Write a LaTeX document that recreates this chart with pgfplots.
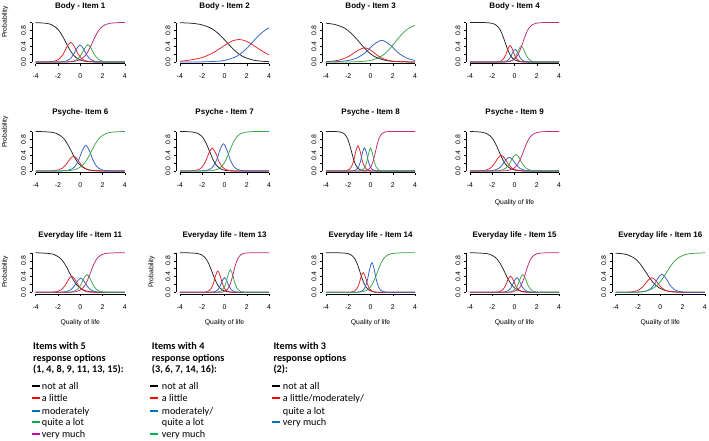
\documentclass[border=0pt]{standalone}
\usepackage{pgfplots}
\pgfplotsset{compat=1.18}
\usepackage{fontspec}
\setmainfont{Liberation Sans}
\newfontfamily\calibri{Carlito}
\definecolor{cblk}{RGB}{35,35,35}
\definecolor{cred}{RGB}{228,32,38}
\definecolor{cblu}{RGB}{45,95,200}
\definecolor{cgrn}{RGB}{60,165,70}
\definecolor{cmag}{RGB}{190,40,120}
\definecolor{lred}{RGB}{255,0,0}
\definecolor{lblu}{RGB}{0,112,192}
\definecolor{lgrn}{RGB}{0,176,80}
\definecolor{lmag}{RGB}{215,0,170}
\pgfplotsset{
 icc/.style={
  scale only axis, width=96.3pt, height=42.66pt, anchor=south west,
  xmin=-4.32, xmax=4.32, ymin=-0.04, ymax=1.04, clip=false,
  axis x line*=bottom, axis y line*=left, axis line style={draw=none},
  xtick={-4,-2,0,2,4}, xticklabels={-4,-2,0,2,4},
  ytick={0,0.2,0.4,0.6,0.8,1}, yticklabels={0.0,,0.4,,0.8,},
  tick align=outside, major tick length=2.5pt, tick style={black,line width=0.4pt},
  ticklabel style={font=\fontsize{6.9}{8}\selectfont},
  xticklabel style={yshift=-4.5pt},
  yticklabel style={rotate=90, anchor=south, xshift=0pt},
  no markers,
  every axis plot/.append style={smooth, line width=0.75pt},
 }
}
\newcommand\axlines{\draw[line width=0.4pt] (axis cs:-4,-0.04) -- (axis cs:4,-0.04); \draw[line width=0.4pt] (axis cs:-4.32,0) -- (axis cs:-4.32,1);}
\begin{document}
\begin{tikzpicture}[x=1pt,y=1pt]
\path[use as bounding box] (0,0) rectangle (709,440);
% ---------- Item 1
\begin{axis}[icc, at={(32.1pt,376.4pt)}]
\axlines
\addplot[cblk] coordinates {(-4,0.998) (-3.1,0.982) (-2.65,0.953) (-2.2,0.881) (-1.975,0.818) (-1.75,0.731) (-1.525,0.622) (-1.3,0.5) (-1.075,0.378) (-0.85,0.269) (-0.625,0.182) (-0.4,0.119) (0.05,0.047) (0.5,0.018) (1.4,0.002) (4,0)};
\addplot[cred] coordinates {(-4,0) (-3.46,0.001) (-2.81,0.005) (-2.485,0.013) (-2.16,0.035) (-1.835,0.09) (-1.51,0.21) (-1.185,0.393) (-0.86,0.5) (-0.535,0.393) (-0.21,0.21) (0.115,0.09) (0.44,0.035) (0.765,0.013) (1.09,0.005) (1.74,0.001) (4,0)};
\addplot[cblu] coordinates {(-4,0) (-2.42,0.001) (-1.82,0.004) (-1.52,0.011) (-1.22,0.03) (-0.92,0.078) (-0.62,0.181) (-0.32,0.338) (-0.02,0.43) (0.28,0.338) (0.58,0.181) (0.88,0.078) (1.18,0.03) (1.48,0.011) (1.78,0.004) (2.38,0.001) (4,0)};
\addplot[cgrn] coordinates {(-4,0) (-1.72,0.001) (-1.12,0.004) (-0.82,0.012) (-0.52,0.031) (-0.22,0.08) (0.08,0.185) (0.38,0.346) (0.68,0.44) (0.98,0.346) (1.28,0.185) (1.58,0.08) (1.88,0.031) (2.18,0.012) (2.48,0.004) (3.08,0.001) (4,0)};
\addplot[cmag] coordinates {(-4,0) (-1.3,0.002) (-0.5,0.018) (-0.1,0.047) (0.3,0.119) (0.5,0.182) (0.7,0.269) (0.9,0.378) (1.1,0.5) (1.3,0.622) (1.5,0.731) (1.7,0.818) (1.9,0.881) (2.3,0.953) (2.7,0.982) (3.5,0.998) (4,1)};
\end{axis}
% ---------- Item 2
\begin{axis}[icc, at={(176.4pt,376.4pt)}]
\axlines
\addplot[cblk] coordinates {(-4,0.995) (-3.0,0.982) (-2.2,0.953) (-1.4,0.881) (-1.0,0.818) (-0.6,0.731) (-0.2,0.622) (0.2,0.5) (0.6,0.378) (1.0,0.269) (1.4,0.182) (1.8,0.119) (2.6,0.047) (3.4,0.018) (4,0.009)};
\addplot[cred] coordinates {(-4,0.022) (-3.3,0.040) (-2.15,0.103) (-1.575,0.160) (-1.0,0.239) (-0.425,0.340) (0.15,0.448) (0.725,0.536) (1.3,0.57) (1.875,0.536) (2.45,0.448) (3.025,0.340) (3.6,0.239) (4,0.181)};
\addplot[cblu] coordinates {(-4,0) (-2.3,0.002) (-0.7,0.018) (0.1,0.047) (0.9,0.119) (1.3,0.182) (1.7,0.269) (2.1,0.378) (2.5,0.5) (2.9,0.622) (3.3,0.731) (3.7,0.818) (4,0.867)};
\end{axis}
% ---------- Item 3
\begin{axis}[icc, at={(322.4pt,376.4pt)}]
\axlines
\addplot[cblk] coordinates {(-4,0.982) (-3.25,0.953) (-2.5,0.881) (-2.125,0.818) (-1.75,0.731) (-1.375,0.622) (-1.0,0.5) (-0.625,0.378) (-0.25,0.269) (0.125,0.182) (0.5,0.119) (1.25,0.047) (2.0,0.018) (3.5,0.002) (4,0.001)};
\addplot[cred] coordinates {(-4,0.010) (-3.3,0.025) (-2.6,0.065) (-1.9,0.151) (-1.2,0.283) (-0.5,0.36) (0.1,0.283) (0.7,0.151) (1.3,0.065) (1.9,0.025) (2.5,0.010) (3.1,0.004) (4,0.001)};
\addplot[cblu] coordinates {(-4,0.003) (-3.5,0.005) (-2.75,0.015) (-2.0,0.039) (-1.25,0.099) (-0.5,0.231) (0.25,0.433) (1.0,0.55) (1.75,0.433) (2.5,0.231) (3.25,0.099) (4,0.039)};
\addplot[cgrn] coordinates {(-4,0) (-2.0,0.002) (-0.6,0.018) (0.1,0.047) (0.8,0.119) (1.15,0.182) (1.5,0.269) (1.85,0.378) (2.2,0.5) (2.55,0.622) (2.9,0.731) (3.25,0.818) (3.6,0.881) (4,0.929)};
\end{axis}
% ---------- Item 4
\begin{axis}[icc, at={(466.4pt,376.4pt)}]
\axlines
\addplot[cblk] coordinates {(-4,1) (-2.65,0.998) (-2.05,0.982) (-1.75,0.953) (-1.45,0.881) (-1.3,0.818) (-1.15,0.731) (-1.0,0.622) (-0.85,0.5) (-0.7,0.378) (-0.55,0.269) (-0.4,0.182) (-0.25,0.119) (0.05,0.047) (0.35,0.018) (0.95,0.002) (4,0)};
\addplot[cred] coordinates {(-4,0) (-2.0,0.001) (-1.6,0.004) (-1.4,0.011) (-1.2,0.03) (-1.0,0.076) (-0.8,0.176) (-0.6,0.33) (-0.4,0.42) (-0.2,0.33) (0.0,0.176) (0.2,0.076) (0.4,0.03) (0.6,0.011) (0.8,0.004) (1.2,0.001) (4,0)};
\addplot[cblu] coordinates {(-4,0) (-1.55,0.0004) (-1.15,0.003) (-0.95,0.009) (-0.75,0.023) (-0.55,0.058) (-0.35,0.134) (-0.15,0.252) (0.05,0.32) (0.25,0.252) (0.45,0.134) (0.65,0.058) (0.85,0.023) (1.05,0.009) (1.25,0.003) (1.65,0.0004) (4,0)};
\addplot[cgrn] coordinates {(-4,0) (-1.2,0.0005) (-0.75,0.004) (-0.525,0.011) (-0.3,0.028) (-0.075,0.072) (0.15,0.168) (0.375,0.315) (0.6,0.4) (0.825,0.315) (1.05,0.168) (1.275,0.072) (1.5,0.028) (1.725,0.011) (1.95,0.004) (2.4,0.0005) (4,0)};
\addplot[cmag] coordinates {(-4,0) (-1.05,0.002) (-0.45,0.018) (-0.15,0.047) (0.15,0.119) (0.3,0.182) (0.45,0.269) (0.6,0.378) (0.75,0.5) (0.9,0.622) (1.05,0.731) (1.2,0.818) (1.35,0.881) (1.65,0.953) (1.95,0.982) (2.55,0.998) (4,1)};
\end{axis}
% ---------- Item 6
\begin{axis}[icc, at={(32.1pt,267.4pt)}]
\axlines
\addplot[cblk] coordinates {(-4,1) (-3.5,0.998) (-2.6,0.982) (-2.15,0.953) (-1.7,0.881) (-1.475,0.818) (-1.25,0.731) (-1.025,0.622) (-0.8,0.5) (-0.575,0.378) (-0.35,0.269) (-0.125,0.182) (0.1,0.119) (0.55,0.047) (1.0,0.018) (1.9,0.002) (4,0)};
\addplot[cred] coordinates {(-4,0) (-3.32,0.0005) (-2.64,0.004) (-2.3,0.01) (-1.96,0.027) (-1.62,0.069) (-1.28,0.16) (-0.94,0.299) (-0.6,0.38) (-0.26,0.299) (0.08,0.16) (0.42,0.069) (0.76,0.027) (1.1,0.01) (1.44,0.004) (2.12,0.0005) (4,0)};
\addplot[cblu] coordinates {(-4,0) (-2.1,0.001) (-1.45,0.006) (-1.125,0.017) (-0.8,0.046) (-0.475,0.117) (-0.15,0.273) (0.175,0.511) (0.5,0.65) (0.825,0.511) (1.15,0.273) (1.475,0.117) (1.8,0.046) (2.125,0.017) (2.45,0.006) (3.1,0.001) (4,0)};
\addplot[cgrn] coordinates {(-4,0) (-1.7,0.002) (-0.8,0.018) (-0.35,0.047) (0.1,0.119) (0.325,0.182) (0.55,0.269) (0.775,0.378) (1.0,0.5) (1.225,0.622) (1.45,0.731) (1.675,0.818) (1.9,0.881) (2.35,0.953) (2.8,0.982) (3.7,0.998) (4,1)};
\end{axis}
% ---------- Item 7
\begin{axis}[icc, at={(176.4pt,267.4pt)}]
\axlines
\addplot[cblk] coordinates {(-4,1) (-3.45,0.998) (-2.75,0.982) (-2.4,0.953) (-2.05,0.881) (-1.875,0.818) (-1.7,0.731) (-1.525,0.622) (-1.35,0.5) (-1.175,0.378) (-1.0,0.269) (-0.825,0.182) (-0.65,0.119) (-0.3,0.047) (0.05,0.018) (0.75,0.002) (4,0)};
\addplot[cred] coordinates {(-4,0) (-3.5,0.001) (-2.9,0.006) (-2.6,0.015) (-2.3,0.041) (-2.0,0.105) (-1.7,0.244) (-1.4,0.456) (-1.1,0.58) (-0.8,0.456) (-0.5,0.244) (-0.2,0.105) (0.1,0.041) (0.4,0.015) (0.7,0.006) (1.3,0.001) (4,0)};
\addplot[cblu] coordinates {(-4,0) (-2.5,0.001) (-1.9,0.007) (-1.6,0.018) (-1.3,0.049) (-1.0,0.125) (-0.7,0.29) (-0.4,0.543) (-0.1,0.69) (0.2,0.543) (0.5,0.29) (0.8,0.125) (1.1,0.049) (1.4,0.018) (1.7,0.007) (2.3,0.001) (4,0)};
\addplot[cgrn] coordinates {(-4,0) (-1.65,0.002) (-0.95,0.018) (-0.6,0.047) (-0.25,0.119) (-0.075,0.182) (0.1,0.269) (0.275,0.378) (0.45,0.5) (0.625,0.622) (0.8,0.731) (0.975,0.818) (1.15,0.881) (1.5,0.953) (1.85,0.982) (2.55,0.998) (4,1)};
\end{axis}
% ---------- Item 8
\begin{axis}[icc, at={(322.4pt,267.4pt)}]
\axlines
\addplot[cblk] coordinates {(-4,1) (-3.1,0.998) (-2.64,0.982) (-2.41,0.953) (-2.18,0.881) (-2.065,0.818) (-1.95,0.731) (-1.835,0.622) (-1.72,0.5) (-1.605,0.378) (-1.49,0.269) (-1.375,0.182) (-1.26,0.119) (-1.03,0.047) (-0.8,0.018) (-0.34,0.002) (4,0)};
\addplot[cred] coordinates {(-4,0) (-2.65,0.001) (-2.27,0.006) (-2.08,0.017) (-1.89,0.045) (-1.7,0.116) (-1.51,0.269) (-1.32,0.503) (-1.13,0.64) (-0.94,0.503) (-0.75,0.269) (-0.56,0.116) (-0.37,0.045) (-0.18,0.017) (0.01,0.006) (0.39,0.001) (4,0)};
\addplot[cblu] coordinates {(-4,0) (-1.95,0.001) (-1.6,0.006) (-1.425,0.016) (-1.25,0.042) (-1.075,0.107) (-0.9,0.248) (-0.725,0.464) (-0.55,0.59) (-0.375,0.464) (-0.2,0.248) (-0.025,0.107) (0.15,0.042) (0.325,0.016) (0.5,0.006) (0.85,0.001) (4,0)};
\addplot[cgrn] coordinates {(-4,0) (-1.32,0.001) (-0.99,0.006) (-0.825,0.015) (-0.66,0.041) (-0.495,0.105) (-0.33,0.244) (-0.165,0.456) (0,0.58) (0.165,0.456) (0.33,0.244) (0.495,0.105) (0.66,0.041) (0.825,0.015) (0.99,0.006) (1.32,0.001) (4,0)};
\addplot[cmag] coordinates {(-4,0) (-0.75,0.002) (-0.35,0.018) (-0.15,0.047) (0.05,0.119) (0.15,0.182) (0.25,0.269) (0.35,0.378) (0.45,0.5) (0.55,0.622) (0.65,0.731) (0.75,0.818) (0.85,0.881) (1.05,0.953) (1.25,0.982) (1.65,0.998) (4,1)};
\end{axis}
% ---------- Item 9
\begin{axis}[icc, at={(466.4pt,267.4pt)}]
\axlines
\addplot[cblk] coordinates {(-4,1) (-3.68,0.998) (-2.92,0.982) (-2.54,0.953) (-2.16,0.881) (-1.97,0.818) (-1.78,0.731) (-1.59,0.622) (-1.4,0.5) (-1.21,0.378) (-1.02,0.269) (-0.83,0.182) (-0.64,0.119) (-0.26,0.047) (0.12,0.018) (0.88,0.002) (4,0)};
\addplot[cred] coordinates {(-4,0) (-3.8,0.0005) (-3.15,0.004) (-2.825,0.011) (-2.5,0.028) (-2.175,0.072) (-1.85,0.168) (-1.525,0.315) (-1.2,0.4) (-0.875,0.315) (-0.55,0.168) (-0.225,0.072) (0.1,0.028) (0.425,0.011) (0.75,0.004) (1.4,0.0005) (4,0)};
\addplot[cblu] coordinates {(-4,0) (-3.07,0.0005) (-2.42,0.003) (-2.095,0.009) (-1.77,0.025) (-1.445,0.063) (-1.12,0.147) (-0.795,0.275) (-0.47,0.35) (-0.145,0.275) (0.18,0.147) (0.505,0.063) (0.83,0.025) (1.155,0.009) (1.48,0.003) (2.13,0.0005) (4,0)};
\addplot[cgrn] coordinates {(-4,0) (-2.28,0.001) (-1.68,0.004) (-1.38,0.011) (-1.08,0.03) (-0.78,0.076) (-0.48,0.176) (-0.18,0.33) (0.12,0.42) (0.42,0.33) (0.72,0.176) (1.02,0.076) (1.32,0.03) (1.62,0.011) (1.92,0.004) (2.52,0.001) (4,0)};
\addplot[cmag] coordinates {(-4,0) (-1.18,0.002) (-0.52,0.018) (-0.19,0.047) (0.14,0.119) (0.305,0.182) (0.47,0.269) (0.635,0.378) (0.8,0.5) (0.965,0.622) (1.13,0.731) (1.295,0.818) (1.46,0.881) (1.79,0.953) (2.12,0.982) (2.78,0.998) (4,1)};
\end{axis}
% ---------- Item 11
\begin{axis}[icc, at={(32.1pt,146.1pt)}]
\axlines
\addplot[cblk] coordinates {(-4,1) (-3.67,0.998) (-2.77,0.982) (-2.32,0.953) (-1.87,0.881) (-1.645,0.818) (-1.42,0.731) (-1.195,0.622) (-0.97,0.5) (-0.745,0.378) (-0.52,0.269) (-0.295,0.182) (-0.07,0.119) (0.38,0.047) (0.83,0.018) (1.73,0.002) (4,0)};
\addplot[cred] coordinates {(-4,0) (-3.16,0.0005) (-2.56,0.004) (-2.26,0.011) (-1.96,0.029) (-1.66,0.074) (-1.36,0.172) (-1.06,0.322) (-0.76,0.41) (-0.46,0.322) (-0.16,0.172) (0.14,0.074) (0.44,0.029) (0.74,0.011) (1.04,0.004) (1.64,0.0005) (4,0)};
\addplot[cblu] coordinates {(-4,0) (-2.36,0.0005) (-1.76,0.004) (-1.46,0.01) (-1.16,0.025) (-0.86,0.065) (-0.56,0.151) (-0.26,0.283) (0.04,0.36) (0.34,0.283) (0.64,0.151) (0.94,0.065) (1.24,0.025) (1.54,0.01) (1.84,0.004) (2.44,0.0005) (4,0)};
\addplot[cgrn] coordinates {(-4,0) (-1.6,0.001) (-1.05,0.004) (-0.775,0.012) (-0.5,0.032) (-0.225,0.081) (0.05,0.189) (0.325,0.354) (0.6,0.45) (0.875,0.354) (1.15,0.189) (1.425,0.081) (1.7,0.032) (1.975,0.012) (2.25,0.004) (2.8,0.001) (4,0)};
\addplot[cmag] coordinates {(-4,0) (-1.06,0.002) (-0.4,0.018) (-0.07,0.047) (0.26,0.119) (0.425,0.182) (0.59,0.269) (0.755,0.378) (0.92,0.5) (1.085,0.622) (1.25,0.731) (1.415,0.818) (1.58,0.881) (1.91,0.953) (2.24,0.982) (2.9,0.998) (4,1)};
\end{axis}
% ---------- Item 13
\begin{axis}[icc, at={(176.4pt,146.1pt)}]
\axlines
\addplot[cblk] coordinates {(-4,1) (-3.08,0.998) (-2.42,0.982) (-2.09,0.953) (-1.76,0.881) (-1.595,0.818) (-1.43,0.731) (-1.265,0.622) (-1.1,0.5) (-0.935,0.378) (-0.77,0.269) (-0.605,0.182) (-0.44,0.119) (-0.11,0.047) (0.22,0.018) (0.88,0.002) (4,0)};
\addplot[cred] coordinates {(-4,0) (-2.2,0.001) (-1.8,0.005) (-1.6,0.014) (-1.4,0.038) (-1.2,0.098) (-1.0,0.227) (-0.8,0.425) (-0.6,0.54) (-0.4,0.425) (-0.2,0.227) (0.0,0.098) (0.2,0.038) (0.4,0.014) (0.6,0.005) (1.0,0.001) (4,0)};
\addplot[cblu] coordinates {(-4,0) (-1.6,0.0005) (-1.2,0.004) (-1.0,0.01) (-0.8,0.026) (-0.6,0.067) (-0.4,0.155) (-0.2,0.291) (0,0.37) (0.2,0.291) (0.4,0.155) (0.6,0.067) (0.8,0.026) (1.0,0.01) (1.2,0.004) (1.6,0.0005) (4,0)};
\addplot[cgrn] coordinates {(-4,0) (-1.08,0.001) (-0.68,0.006) (-0.48,0.015) (-0.28,0.04) (-0.08,0.103) (0.12,0.239) (0.32,0.448) (0.52,0.57) (0.72,0.448) (0.92,0.239) (1.12,0.103) (1.32,0.04) (1.52,0.015) (1.72,0.006) (2.12,0.001) (4,0)};
\addplot[cmag] coordinates {(-4,0) (-0.52,0.002) (-0.08,0.018) (0.14,0.047) (0.36,0.119) (0.47,0.182) (0.58,0.269) (0.69,0.378) (0.8,0.5) (0.91,0.622) (1.02,0.731) (1.13,0.818) (1.24,0.881) (1.46,0.953) (1.68,0.982) (2.12,0.998) (4,1)};
\end{axis}
% ---------- Item 14
\begin{axis}[icc, at={(322.4pt,146.1pt)}]
\axlines
\addplot[cblk] coordinates {(-4,1) (-2.61,0.998) (-2.05,0.982) (-1.77,0.953) (-1.49,0.881) (-1.35,0.818) (-1.21,0.731) (-1.07,0.622) (-0.93,0.5) (-0.79,0.378) (-0.65,0.269) (-0.51,0.182) (-0.37,0.119) (-0.09,0.047) (0.19,0.018) (0.75,0.002) (4,0)};
\addplot[cred] coordinates {(-4,0) (-2.18,0.001) (-1.8,0.005) (-1.61,0.013) (-1.42,0.035) (-1.23,0.09) (-1.04,0.21) (-0.85,0.393) (-0.66,0.5) (-0.47,0.393) (-0.28,0.21) (-0.09,0.09) (0.1,0.035) (0.29,0.013) (0.48,0.005) (0.86,0.001) (4,0)};
\addplot[cblu] coordinates {(-4,0) (-1.48,0.001) (-1.08,0.007) (-0.88,0.02) (-0.68,0.053) (-0.48,0.136) (-0.28,0.315) (-0.08,0.59) (0.12,0.75) (0.32,0.59) (0.52,0.315) (0.72,0.136) (0.92,0.053) (1.12,0.02) (1.32,0.007) (1.72,0.001) (4,0)};
\addplot[cgrn] coordinates {(-4,0) (-1.38,0.002) (-0.72,0.018) (-0.39,0.047) (-0.06,0.119) (0.105,0.182) (0.27,0.269) (0.435,0.378) (0.6,0.5) (0.765,0.622) (0.93,0.731) (1.095,0.818) (1.26,0.881) (1.59,0.953) (1.92,0.982) (2.58,0.998) (4,1)};
\end{axis}
% ---------- Item 15
\begin{axis}[icc, at={(466.4pt,146.1pt)}]
\axlines
\addplot[cblk] coordinates {(-4,1) (-3.39,0.998) (-2.55,0.982) (-2.13,0.953) (-1.71,0.881) (-1.5,0.818) (-1.29,0.731) (-1.08,0.622) (-0.87,0.5) (-0.66,0.378) (-0.45,0.269) (-0.24,0.182) (-0.03,0.119) (0.39,0.047) (0.81,0.018) (1.65,0.002) (4,0)};
\addplot[cred] coordinates {(-4,0) (-2.16,0.0005) (-1.71,0.004) (-1.485,0.011) (-1.26,0.029) (-1.035,0.074) (-0.81,0.172) (-0.585,0.322) (-0.36,0.41) (-0.135,0.322) (0.09,0.172) (0.315,0.074) (0.54,0.029) (0.765,0.011) (0.99,0.004) (1.44,0.0005) (4,0)};
\addplot[cblu] coordinates {(-4,0) (-1.59,0.0005) (-1.14,0.004) (-0.915,0.01) (-0.69,0.026) (-0.465,0.067) (-0.24,0.155) (-0.015,0.291) (0.21,0.37) (0.435,0.291) (0.66,0.155) (0.885,0.067) (1.11,0.026) (1.335,0.01) (1.56,0.004) (2.01,0.0005) (4,0)};
\addplot[cgrn] coordinates {(-4,0) (-1.06,0.001) (-0.61,0.004) (-0.385,0.012) (-0.16,0.032) (0.065,0.081) (0.29,0.189) (0.515,0.354) (0.74,0.45) (0.965,0.354) (1.19,0.189) (1.415,0.081) (1.64,0.032) (1.865,0.012) (2.09,0.004) (2.54,0.001) (4,0)};
\addplot[cmag] coordinates {(-4,0) (-0.62,0.002) (-0.08,0.018) (0.19,0.047) (0.46,0.119) (0.595,0.182) (0.73,0.269) (0.865,0.378) (1.0,0.5) (1.135,0.622) (1.27,0.731) (1.405,0.818) (1.54,0.881) (1.81,0.953) (2.08,0.982) (2.62,0.998) (4,1)};
\end{axis}
% ---------- Item 16
\begin{axis}[icc, at={(612.1pt,146.1pt)}]
\axlines
\addplot[cblk] coordinates {(-4,0.992) (-3.55,0.982) (-2.98,0.953) (-2.41,0.881) (-2.125,0.818) (-1.84,0.731) (-1.555,0.622) (-1.27,0.5) (-0.985,0.378) (-0.7,0.269) (-0.415,0.182) (-0.13,0.119) (0.44,0.047) (1.01,0.018) (2.15,0.002) (4,0)};
\addplot[cred] coordinates {(-4,0) (-3.76,0.0005) (-3.01,0.004) (-2.635,0.01) (-2.26,0.026) (-1.885,0.067) (-1.51,0.155) (-1.135,0.291) (-0.76,0.37) (-0.385,0.291) (-0.01,0.155) (0.365,0.067) (0.74,0.026) (1.115,0.01) (1.49,0.004) (2.24,0.0005) (4,0)};
\addplot[cblu] coordinates {(-4,0) (-2.65,0.001) (-1.95,0.005) (-1.6,0.012) (-1.25,0.033) (-0.9,0.083) (-0.55,0.193) (-0.2,0.362) (0.15,0.46) (0.5,0.362) (0.85,0.193) (1.2,0.083) (1.55,0.033) (1.9,0.012) (2.25,0.005) (2.95,0.001) (4,0)};
\addplot[cgrn] coordinates {(-4,0) (-2.75,0.002) (-1.65,0.018) (-1.1,0.047) (-0.55,0.119) (-0.275,0.182) (0.0,0.269) (0.275,0.378) (0.55,0.5) (0.825,0.622) (1.1,0.731) (1.375,0.818) (1.65,0.881) (2.2,0.953) (2.75,0.982) (3.85,0.998) (4,1)};
\end{axis}
% ---------- titles
\begin{scope}[every node/.style={font=\bfseries\fontsize{8}{9.6}\selectfont, anchor=base, inner sep=0pt}]
\node at (80.3,431.4) {Body - Item 1};
\node at (224.6,431.4) {Body - Item 2};
\node at (370.6,431.4) {Body - Item 3};
\node at (514.6,431.4) {Body - Item 4};
\node at (80.3,325.4) {Psyche- Item 6};
\node at (224.6,325.4) {Psyche - Item 7};
\node at (370.6,325.4) {Psyche - Item 8};
\node at (514.6,325.4) {Psyche - Item 9};
\node at (80.3,202.1) {Everyday life - Item 11};
\node at (224.6,202.1) {Everyday life - Item 13};
\node at (370.6,202.1) {Everyday life - Item 14};
\node at (514.6,202.1) {Everyday life - Item 15};
\node at (660.3,202.1) {Everyday life - Item 16};
\end{scope}
% ---------- axis labels
\begin{scope}[every node/.style={font=\fontsize{6.8}{8}\selectfont, inner sep=0pt}]
\node[rotate=90] at (5,418) {Probability};
\node[rotate=90] at (5,308) {Probability};
\node[rotate=90] at (5,168) {Probability};
\node[rotate=90] at (151.7,168) {Probability};
\node at (514.6,237.3) {Quality of life};
\node at (80.3,117.3) {Quality of life};
\node at (224.6,117.3) {Quality of life};
\node at (370.6,117.3) {Quality of life};
\node at (514.6,117.3) {Quality of life};
\node at (660.3,117.3) {Quality of life};
\end{scope}
% ---------- legend block
\begin{scope}[every node/.style={font=\calibri\bfseries\fontsize{10.2}{12}\selectfont, anchor=base west, inner sep=0pt}]
\node at (33,90.5) {Items with 5};
\node at (33,79) {response options};
\node at (33,67.5) {(1, 4, 8, 9, 11, 13, 15):};
\node at (151.7,90.5) {Items with 4};
\node at (151.7,79) {response options};
\node at (151.7,67.5) {(3, 6, 7, 14, 16):};
\node at (273.3,90.5) {Items with 3};
\node at (273.3,79) {response options};
\node at (273.3,67.5) {(2):};
\end{scope}
\begin{scope}[every node/.style={font=\calibri\fontsize{10.2}{12}\selectfont, anchor=base west, inner sep=0pt}]
\draw[line width=2pt, black] (31.7,54) -- (40,54);
\draw[line width=2pt, lred] (31.7,41.7) -- (40,41.7);
\draw[line width=2pt, lblu] (31.7,29.3) -- (40,29.3);
\draw[line width=2pt, lgrn] (31.7,17.7) -- (40,17.7);
\draw[line width=2pt, lmag] (31.7,6) -- (40,6);
\node at (41.7,50.7) {not at all};
\node at (41.7,38.4) {a little};
\node at (41.7,26) {moderately};
\node at (41.7,14.4) {quite a lot};
\node at (41.7,2.7) {very much};
\draw[line width=2pt, black] (150,54) -- (158.3,54);
\draw[line width=2pt, lred] (150,41.7) -- (158.3,41.7);
\draw[line width=2pt, lblu] (150,29.3) -- (158.3,29.3);
\draw[line width=2pt, lgrn] (150,6) -- (158.3,6);
\node at (161.7,50.7) {not at all};
\node at (161.7,38.4) {a little};
\node at (161.7,26) {moderately/};
\node at (161.7,14.4) {quite a lot};
\node at (161.7,2.7) {very much};
\draw[line width=2pt, black] (271.7,54) -- (280,54);
\draw[line width=2pt, lred] (271.7,41.7) -- (280,41.7);
\draw[line width=2pt, lblu] (271.7,17.7) -- (280,17.7);
\node at (282.7,50.7) {not at all};
\node at (282.7,38.4) {a little/moderately/};
\node at (282.7,26) {quite a lot};
\node at (282.7,14.4) {very much};
\end{scope}
\end{tikzpicture}
\end{document}
